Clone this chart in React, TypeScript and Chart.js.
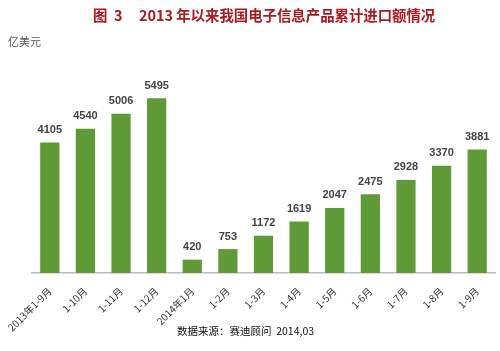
import React, { useEffect, useRef } from "react";
import { Chart, registerables } from "chart.js";

Chart.register(...registerables);

const categories = ["2013年1-9月", "1-10月", "1-11月", "1-12月", "2014年1月", "1-2月", "1-3月", "1-4月", "1-5月", "1-6月", "1-7月", "1-8月", "1-9月"];
const importValues = [4105, 4540, 5006, 5495, 420, 753, 1172, 1619, 2047, 2475, 2928, 3370, 3881];
const titleFig = "图";
const titleNum = "3";
const titleText = "2013 年以来我国电子信息产品累计进口额情况";
const unitText = "亿美元";
const sourceText = "数据来源：赛迪顾问  2014,03";

const FONT = "'Noto Sans CJK SC', 'Liberation Sans', Arial, sans-serif";

const textPlugin = {
  id: "textPlugin",
  afterDatasetsDraw(chart: any) {
    const ctx = chart.ctx;
    ctx.save();
    // data labels
    const meta = chart.getDatasetMeta(0);
    ctx.font = "bold 11px 'Liberation Sans', Arial, sans-serif";
    ctx.fillStyle = "#444";
    ctx.textAlign = "center";
    ctx.textBaseline = "bottom";
    meta.data.forEach((bar: any, i: number) => {
      ctx.fillText(String(importValues[i]), bar.x, bar.y - 7);
    });
    // title
    ctx.font = "bold 14.4px " + FONT;
    ctx.fillStyle = "#ab1820";
    ctx.textAlign = "left";
    ctx.textBaseline = "middle";
    ctx.fillText(titleFig, 93, 16);
    ctx.fillText(titleNum, 114, 16);
    ctx.fillText(titleText, 139, 16);
    // unit
    ctx.font = "11px " + FONT;
    ctx.fillStyle = "#555";
    ctx.fillText(unitText, 8, 42);
    // source
    ctx.font = "10.5px " + FONT;
    ctx.fillStyle = "#111";
    ctx.fillText(sourceText, 177, 331);
    ctx.restore();
  },
};

export default function App() {
  const ref = useRef<HTMLCanvasElement>(null);
  useEffect(() => {
    document.body.style.margin = "0";
    const chart = new Chart(ref.current!, {
      type: "bar",
      data: {
        labels: categories,
        datasets: [
          {
            data: importValues,
            backgroundColor: "#5e9b36",
            barPercentage: 0.54,
            categoryPercentage: 1,
          },
        ],
      },
      options: {
        responsive: false,
        animation: false,
        layout: { padding: { top: 60, left: 32, right: 5, bottom: 0 } },
        plugins: { legend: { display: false }, tooltip: { enabled: false }, title: { display: false } },
        scales: {
          x: {
            grid: { display: false },
            border: { display: true, color: "#bbb", width: 1.5 },
            ticks: {
              minRotation: 45,
              maxRotation: 45,
              color: "#333",
              font: { size: 10, family: FONT },
              padding: 4,
            },
            afterFit: (scale: any) => {
              scale.height = 78;
            },
          },
          y: { display: false, min: 0, max: 6700 },
        },
      },
      plugins: [textPlugin],
    });
    return () => chart.destroy();
  }, []);
  return <canvas ref={ref} width={500} height={351} style={{ display: "block" }} />;
}
